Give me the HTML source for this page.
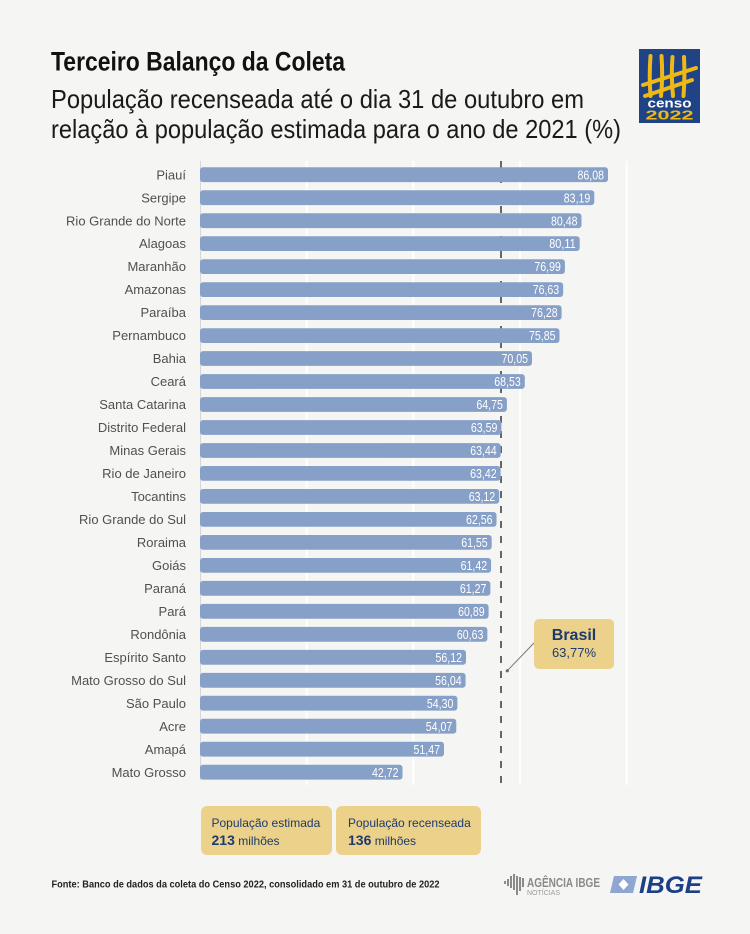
<!DOCTYPE html>
<html><head><meta charset="utf-8"><style>
html,body{margin:0;padding:0;background:#f5f5f3;}
svg{display:block;}
text{font-family:"Liberation Sans",sans-serif;}
</style></head><body>
<svg width="750" height="934" viewBox="0 0 750 934" xmlns="http://www.w3.org/2000/svg">
<rect width="750" height="934" fill="#f5f5f3"/>
<!-- Titles -->
<text x="51" y="70.5" font-size="27" font-weight="bold" fill="#111" textLength="294" lengthAdjust="spacingAndGlyphs">Terceiro Balanço da Coleta</text>
<text x="51" y="108" font-size="26" fill="#1a1a1a" textLength="533" lengthAdjust="spacingAndGlyphs">População recenseada até o dia 31 de outubro em</text>
<text x="51" y="138" font-size="26" fill="#1a1a1a" textLength="570" lengthAdjust="spacingAndGlyphs">relação à população estimada para o ano de 2021 (%)</text>
<!-- Censo logo -->
<rect x="639" y="49" width="61" height="74" fill="#1f4384"/>
<g stroke="#eeb914" stroke-width="4" stroke-linecap="round" fill="none">
<path d="M650.5 56 Q649 76 650.5 96"/>
<path d="M661.5 56 Q663 76 661 96"/>
<path d="M672.5 57 Q671 76 673 96"/>
<path d="M684 57 Q685 76 683.5 96"/>
<path d="M643 85 L696 68"/>
<path d="M645 96 L692 80"/>
</g>
<text x="669.5" y="107.5" font-size="13" font-weight="bold" fill="#fff" text-anchor="middle" textLength="44" lengthAdjust="spacingAndGlyphs">censo</text>
<text x="669.5" y="119.5" font-size="13" font-weight="bold" fill="#eeb914" text-anchor="middle" textLength="48" lengthAdjust="spacingAndGlyphs">2022</text>
<!-- grid -->
<line x1="200.5" y1="161" x2="200.5" y2="780" stroke="#d6d6d6" stroke-width="1"/>
<g stroke="#ffffff" stroke-width="2">
<line x1="306.7" y1="161" x2="306.7" y2="785"/>
<line x1="413.3" y1="161" x2="413.3" y2="785"/>
<line x1="520" y1="161" x2="520" y2="785"/>
<line x1="626.7" y1="161" x2="626.7" y2="785"/>
</g>
<line x1="501" y1="161" x2="501" y2="785" stroke="#666" stroke-width="2" stroke-dasharray="7 8"/>
<!-- rows -->
<g font-size="13" fill="#505050">
<g transform="translate(0,167.3)"><text x="186" y="12" text-anchor="end">Piauí</text><rect x="200" y="0" width="408" height="14.8" rx="3" fill="#87a0c8"/><text x="604" y="12" font-size="12.5" fill="#fff" text-anchor="end" textLength="26.5" lengthAdjust="spacingAndGlyphs">86,08</text></g>
<g transform="translate(0,190.3)"><text x="186" y="12" text-anchor="end">Sergipe</text><rect x="200" y="0" width="394.3" height="14.8" rx="3" fill="#87a0c8"/><text x="590.3" y="12" font-size="12.5" fill="#fff" text-anchor="end" textLength="26.5" lengthAdjust="spacingAndGlyphs">83,19</text></g>
<g transform="translate(0,213.3)"><text x="186" y="12" text-anchor="end">Rio Grande do Norte</text><rect x="200" y="0" width="381.5" height="14.8" rx="3" fill="#87a0c8"/><text x="577.5" y="12" font-size="12.5" fill="#fff" text-anchor="end" textLength="26.5" lengthAdjust="spacingAndGlyphs">80,48</text></g>
<g transform="translate(0,236.2)"><text x="186" y="12" text-anchor="end">Alagoas</text><rect x="200" y="0" width="379.7" height="14.8" rx="3" fill="#87a0c8"/><text x="575.7" y="12" font-size="12.5" fill="#fff" text-anchor="end" textLength="26.5" lengthAdjust="spacingAndGlyphs">80,11</text></g>
<g transform="translate(0,259.2)"><text x="186" y="12" text-anchor="end">Maranhão</text><rect x="200" y="0" width="364.9" height="14.8" rx="3" fill="#87a0c8"/><text x="560.9" y="12" font-size="12.5" fill="#fff" text-anchor="end" textLength="26.5" lengthAdjust="spacingAndGlyphs">76,99</text></g>
<g transform="translate(0,282.2)"><text x="186" y="12" text-anchor="end">Amazonas</text><rect x="200" y="0" width="363.2" height="14.8" rx="3" fill="#87a0c8"/><text x="559.2" y="12" font-size="12.5" fill="#fff" text-anchor="end" textLength="26.5" lengthAdjust="spacingAndGlyphs">76,63</text></g>
<g transform="translate(0,305.2)"><text x="186" y="12" text-anchor="end">Paraíba</text><rect x="200" y="0" width="361.6" height="14.8" rx="3" fill="#87a0c8"/><text x="557.6" y="12" font-size="12.5" fill="#fff" text-anchor="end" textLength="26.5" lengthAdjust="spacingAndGlyphs">76,28</text></g>
<g transform="translate(0,328.2)"><text x="186" y="12" text-anchor="end">Pernambuco</text><rect x="200" y="0" width="359.5" height="14.8" rx="3" fill="#87a0c8"/><text x="555.5" y="12" font-size="12.5" fill="#fff" text-anchor="end" textLength="26.5" lengthAdjust="spacingAndGlyphs">75,85</text></g>
<g transform="translate(0,351.1)"><text x="186" y="12" text-anchor="end">Bahia</text><rect x="200" y="0" width="332" height="14.8" rx="3" fill="#87a0c8"/><text x="528" y="12" font-size="12.5" fill="#fff" text-anchor="end" textLength="26.5" lengthAdjust="spacingAndGlyphs">70,05</text></g>
<g transform="translate(0,374.1)"><text x="186" y="12" text-anchor="end">Ceará</text><rect x="200" y="0" width="324.8" height="14.8" rx="3" fill="#87a0c8"/><text x="520.8" y="12" font-size="12.5" fill="#fff" text-anchor="end" textLength="26.5" lengthAdjust="spacingAndGlyphs">68,53</text></g>
<g transform="translate(0,397.1)"><text x="186" y="12" text-anchor="end">Santa Catarina</text><rect x="200" y="0" width="306.9" height="14.8" rx="3" fill="#87a0c8"/><text x="502.9" y="12" font-size="12.5" fill="#fff" text-anchor="end" textLength="26.5" lengthAdjust="spacingAndGlyphs">64,75</text></g>
<g transform="translate(0,420.1)"><text x="186" y="12" text-anchor="end">Distrito Federal</text><rect x="200" y="0" width="301.4" height="14.8" rx="3" fill="#87a0c8"/><text x="497.4" y="12" font-size="12.5" fill="#fff" text-anchor="end" textLength="26.5" lengthAdjust="spacingAndGlyphs">63,59</text></g>
<g transform="translate(0,443.1)"><text x="186" y="12" text-anchor="end">Minas Gerais</text><rect x="200" y="0" width="300.7" height="14.8" rx="3" fill="#87a0c8"/><text x="496.7" y="12" font-size="12.5" fill="#fff" text-anchor="end" textLength="26.5" lengthAdjust="spacingAndGlyphs">63,44</text></g>
<g transform="translate(0,466)"><text x="186" y="12" text-anchor="end">Rio de Janeiro</text><rect x="200" y="0" width="300.6" height="14.8" rx="3" fill="#87a0c8"/><text x="496.6" y="12" font-size="12.5" fill="#fff" text-anchor="end" textLength="26.5" lengthAdjust="spacingAndGlyphs">63,42</text></g>
<g transform="translate(0,489)"><text x="186" y="12" text-anchor="end">Tocantins</text><rect x="200" y="0" width="299.2" height="14.8" rx="3" fill="#87a0c8"/><text x="495.2" y="12" font-size="12.5" fill="#fff" text-anchor="end" textLength="26.5" lengthAdjust="spacingAndGlyphs">63,12</text></g>
<g transform="translate(0,512)"><text x="186" y="12" text-anchor="end">Rio Grande do Sul</text><rect x="200" y="0" width="296.5" height="14.8" rx="3" fill="#87a0c8"/><text x="492.5" y="12" font-size="12.5" fill="#fff" text-anchor="end" textLength="26.5" lengthAdjust="spacingAndGlyphs">62,56</text></g>
<g transform="translate(0,535)"><text x="186" y="12" text-anchor="end">Roraima</text><rect x="200" y="0" width="291.7" height="14.8" rx="3" fill="#87a0c8"/><text x="487.7" y="12" font-size="12.5" fill="#fff" text-anchor="end" textLength="26.5" lengthAdjust="spacingAndGlyphs">61,55</text></g>
<g transform="translate(0,558)"><text x="186" y="12" text-anchor="end">Goiás</text><rect x="200" y="0" width="291.1" height="14.8" rx="3" fill="#87a0c8"/><text x="487.1" y="12" font-size="12.5" fill="#fff" text-anchor="end" textLength="26.5" lengthAdjust="spacingAndGlyphs">61,42</text></g>
<g transform="translate(0,580.9)"><text x="186" y="12" text-anchor="end">Paraná</text><rect x="200" y="0" width="290.4" height="14.8" rx="3" fill="#87a0c8"/><text x="486.4" y="12" font-size="12.5" fill="#fff" text-anchor="end" textLength="26.5" lengthAdjust="spacingAndGlyphs">61,27</text></g>
<g transform="translate(0,603.9)"><text x="186" y="12" text-anchor="end">Pará</text><rect x="200" y="0" width="288.6" height="14.8" rx="3" fill="#87a0c8"/><text x="484.6" y="12" font-size="12.5" fill="#fff" text-anchor="end" textLength="26.5" lengthAdjust="spacingAndGlyphs">60,89</text></g>
<g transform="translate(0,626.9)"><text x="186" y="12" text-anchor="end">Rondônia</text><rect x="200" y="0" width="287.4" height="14.8" rx="3" fill="#87a0c8"/><text x="483.4" y="12" font-size="12.5" fill="#fff" text-anchor="end" textLength="26.5" lengthAdjust="spacingAndGlyphs">60,63</text></g>
<g transform="translate(0,649.9)"><text x="186" y="12" text-anchor="end">Espírito Santo</text><rect x="200" y="0" width="266" height="14.8" rx="3" fill="#87a0c8"/><text x="462" y="12" font-size="12.5" fill="#fff" text-anchor="end" textLength="26.5" lengthAdjust="spacingAndGlyphs">56,12</text></g>
<g transform="translate(0,672.9)"><text x="186" y="12" text-anchor="end">Mato Grosso do Sul</text><rect x="200" y="0" width="265.6" height="14.8" rx="3" fill="#87a0c8"/><text x="461.6" y="12" font-size="12.5" fill="#fff" text-anchor="end" textLength="26.5" lengthAdjust="spacingAndGlyphs">56,04</text></g>
<g transform="translate(0,695.8)"><text x="186" y="12" text-anchor="end">São Paulo</text><rect x="200" y="0" width="257.4" height="14.8" rx="3" fill="#87a0c8"/><text x="453.4" y="12" font-size="12.5" fill="#fff" text-anchor="end" textLength="26.5" lengthAdjust="spacingAndGlyphs">54,30</text></g>
<g transform="translate(0,718.8)"><text x="186" y="12" text-anchor="end">Acre</text><rect x="200" y="0" width="256.3" height="14.8" rx="3" fill="#87a0c8"/><text x="452.3" y="12" font-size="12.5" fill="#fff" text-anchor="end" textLength="26.5" lengthAdjust="spacingAndGlyphs">54,07</text></g>
<g transform="translate(0,741.8)"><text x="186" y="12" text-anchor="end">Amapá</text><rect x="200" y="0" width="244" height="14.8" rx="3" fill="#87a0c8"/><text x="440" y="12" font-size="12.5" fill="#fff" text-anchor="end" textLength="26.5" lengthAdjust="spacingAndGlyphs">51,47</text></g>
<g transform="translate(0,764.8)"><text x="186" y="12" text-anchor="end">Mato Grosso</text><rect x="200" y="0" width="202.5" height="14.8" rx="3" fill="#87a0c8"/><text x="398.5" y="12" font-size="12.5" fill="#fff" text-anchor="end" textLength="26.5" lengthAdjust="spacingAndGlyphs">42,72</text></g>
</g>
<!-- Brasil callout -->
<line x1="507" y1="671" x2="534" y2="643" stroke="#777" stroke-width="1"/>
<circle cx="507.3" cy="670.8" r="1.6" fill="#666"/>
<rect x="534" y="619" width="80" height="50" rx="5" fill="#ebd18a"/>
<text x="574" y="640" font-size="16" font-weight="bold" fill="#1c3a6e" text-anchor="middle">Brasil</text>
<text x="574" y="657" font-size="13" fill="#1c3a6e" text-anchor="middle">63,77%</text>
<!-- bottom boxes -->
<rect x="201" y="806" width="131" height="49" rx="6" fill="#ebd18a"/>
<rect x="336" y="806" width="145" height="49" rx="6" fill="#ebd18a"/>
<text x="211.5" y="827" font-size="12" fill="#1c3a6e">População estimada</text>
<text x="211.5" y="845" font-size="12" fill="#1c3a6e"><tspan font-size="14" font-weight="bold">213</tspan> milhões</text>
<text x="348" y="827" font-size="12" fill="#1c3a6e">População recenseada</text>
<text x="348" y="845" font-size="12" fill="#1c3a6e"><tspan font-size="14" font-weight="bold">136</tspan> milhões</text>
<!-- footer -->
<text x="51.5" y="887.5" font-size="10.5" font-weight="bold" fill="#222" textLength="388" lengthAdjust="spacingAndGlyphs">Fonte: Banco de dados da coleta do Censo 2022, consolidado em 31 de outubro de 2022</text>
<!-- Agencia IBGE logo -->
<g fill="#8a8a8a">
<rect x="504" y="881" width="2" height="3"/>
<rect x="507" y="879" width="2" height="7"/>
<rect x="510" y="876" width="2" height="12"/>
<rect x="513" y="874" width="2" height="16"/>
<rect x="516" y="876" width="2" height="19"/>
<rect x="519" y="877" width="2" height="14"/>
<rect x="522" y="878" width="2" height="9"/>
</g>
<text x="527" y="887" font-size="13" font-weight="bold" fill="#8a8a8a" textLength="73" lengthAdjust="spacingAndGlyphs">AGÊNCIA IBGE</text>
<text x="527" y="895" font-size="7.5" fill="#9a9a9a" textLength="33" lengthAdjust="spacingAndGlyphs">NOTÍCIAS</text>
<!-- IBGE logo -->
<path d="M614 876 L637 876 L633 893 L610 893 Z" fill="#8ea6d0"/>
<path d="M623.5 879 L628.5 884.5 L623.5 890 L618.5 884.5 Z" fill="#fff"/>
<text x="639" y="893" font-size="24" font-weight="bold" font-style="italic" fill="#1d3f86" textLength="63" lengthAdjust="spacingAndGlyphs">IBGE</text>
</svg>
</body></html>
